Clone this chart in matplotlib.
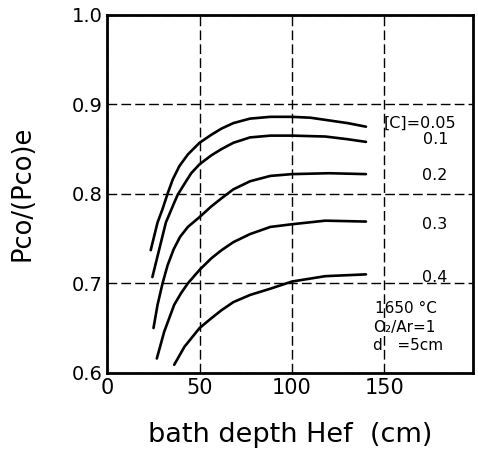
import matplotlib
matplotlib.use("Agg")
import matplotlib.pyplot as plt

# Data
x_c005 = [23.6, 27.3, 30, 32.7, 35.5, 39.1, 43.7, 50, 56.4, 62, 68.3, 77.3, 88.3, 100, 110, 120, 130, 140]
y_c005 = [0.737, 0.768, 0.783, 0.800, 0.816, 0.831, 0.844, 0.857, 0.866, 0.873, 0.879, 0.884, 0.886, 0.886, 0.885, 0.882, 0.879, 0.875]

x_c01 = [24.5, 31.8, 36.3, 38.2, 41.8, 45.5, 50, 56.4, 61.9, 68.3, 77.3, 88.3, 100, 118, 130, 140]
y_c01 = [0.707, 0.768, 0.790, 0.799, 0.811, 0.823, 0.833, 0.843, 0.850, 0.857, 0.863, 0.865, 0.865, 0.864, 0.861, 0.858]

x_c02 = [25.1, 27.3, 30, 32.7, 36, 39.5, 43.7, 50, 56.4, 61.9, 68.3, 77.3, 88.3, 100, 120, 140]
y_c02 = [0.650, 0.676, 0.700, 0.720, 0.738, 0.752, 0.763, 0.774, 0.786, 0.795, 0.805, 0.814, 0.820, 0.822, 0.823, 0.822]

x_c03 = [26.9, 30.9, 36.3, 40, 43.7, 50, 56.4, 61.9, 68.3, 77.3, 88.3, 100, 118, 140]
y_c03 = [0.616, 0.646, 0.676, 0.689, 0.700, 0.715, 0.728, 0.737, 0.746, 0.755, 0.763, 0.766, 0.770, 0.769]

x_c04 = [36.3, 41.8, 50, 56.4, 61.9, 68.3, 77.3, 88.3, 100, 118, 140]
y_c04 = [0.609, 0.629, 0.650, 0.661, 0.670, 0.679, 0.687, 0.694, 0.702, 0.708, 0.710]

curve_labels = ["[C]=0.05", "0.1", "0.2", "0.3", "0.4"]
label_x = [149.5, 171.0, 170.5, 170.5, 170.5]
label_y = [0.879, 0.861, 0.820, 0.766, 0.707]

x_ticks = [0, 50, 100, 150]
y_ticks = [0.6, 0.7, 0.8, 0.9, 1.0]
y_ticklabels = ["0.6", "0.7", "0.8", "0.9", "1.0"]

fig = plt.figure(figsize=(4.78, 4.62), dpi=100)
ax = fig.add_axes([0.224, 0.193, 0.766, 0.775])

for xs, ys in [(x_c005, y_c005), (x_c01, y_c01), (x_c02, y_c02), (x_c03, y_c03), (x_c04, y_c04)]:
    ax.plot(xs, ys, color="black", lw=1.9, solid_capstyle="round", solid_joinstyle="round")

ax.set_xlim(0, 198)
ax.set_ylim(0.6, 1.0)
ax.set_xticks(x_ticks)
ax.set_yticks(y_ticks)
ax.set_yticklabels(y_ticklabels)
ax.tick_params(axis="x", labelsize=15, length=0, pad=4)
ax.tick_params(axis="y", labelsize=14, length=0, pad=3)

ax.grid(True, color="black", linestyle=(0, (7, 3)), linewidth=1.0)
for s in ax.spines.values():
    s.set_linewidth(2.0)

for t, lx, ly in zip(curve_labels, label_x, label_y):
    ax.text(lx, ly, t, fontsize=11.5, va="center", ha="left")

ax.text(145, 0.672, "1650 °C", fontsize=11, va="center", ha="left")
ax.text(144, 0.651, "O₂/Ar=1", fontsize=11, va="center", ha="left")
ax.text(144, 0.631, "d   =5cm", fontsize=11, va="center", ha="left")

ax.set_xlabel("bath depth Hef  (cm)", fontsize=19.5, labelpad=17)
ax.set_ylabel("Pco/(Pco)e", fontsize=18.5, labelpad=26)

fig.savefig("out.png", dpi=100)
